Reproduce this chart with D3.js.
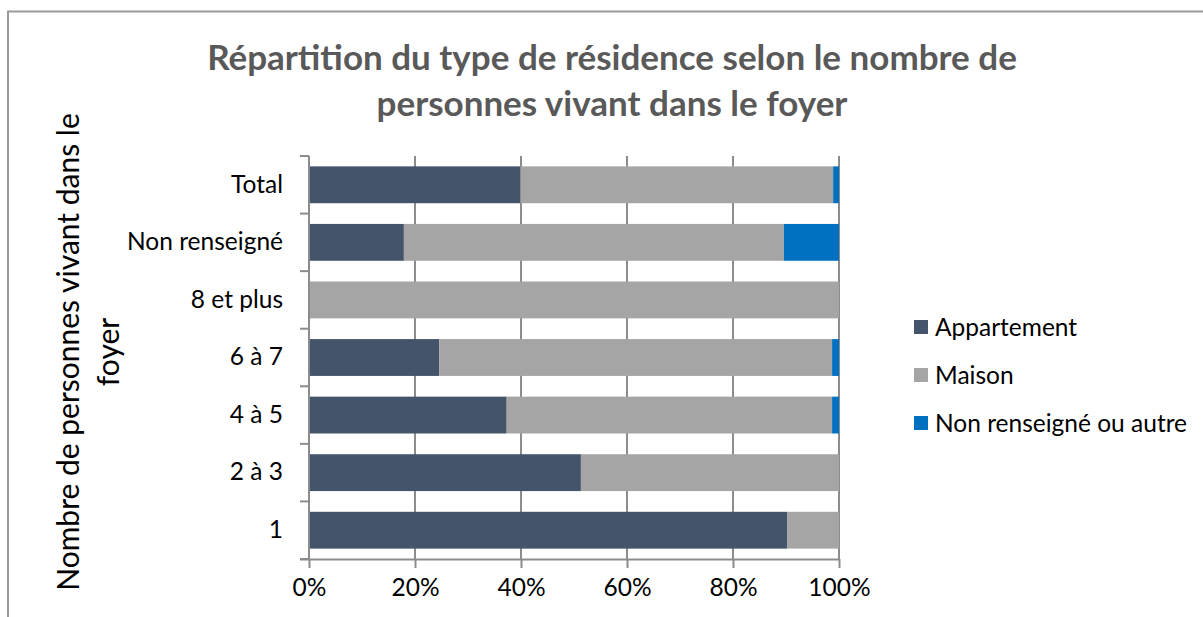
<!DOCTYPE html>
<html>
<head>
<meta charset="utf-8">
<script src="https://cdn.jsdelivr.net/npm/d3@7"></script>
<style>
  body { margin: 0; background: #fff; }
  svg { display: block; font-family: Lato, "Open Sans", sans-serif; }
</style>
</head>
<body>
<div id="chart"></div>
<script>
var width = 1203,
height = 617;

// categories from top to bottom
var categories = ['Total', 'Non renseigné', '8 et plus', '6 à 7', '4 à 5', '2 à 3', '1'];
var seriesNames = ['Appartement', 'Maison', 'Non renseigné ou autre'];
var appartement = [39.9, 17.9, 0, 24.6, 37.3, 51.3, 90.2];
var maison = [59.0, 71.7, 100, 74.1, 61.4, 48.7, 9.8];
var autre = [1.1, 10.4, 0, 1.3, 1.3, 0, 0];
var xTicks = [0, 20, 40, 60, 80, 100];
var colors = ['#44546A', '#A5A5A5', '#0070C0'];

var plot = {left: 309, right: 839, top: 156, bottom: 559};

const svg = d3.select('#chart').
append('svg').
attr('width', width).
attr('height', height);

// chart frame
svg.append('path').
attr('d', 'M8,' + (height + 5) + 'V11.5H' + (width + 5)).
attr('fill', 'none').
attr('stroke', '#9a9a9a').
attr('stroke-width', 2);

const xScale = d3.scaleLinear().
domain([0, 100]).
range([plot.left, plot.right]);

const yScale = d3.scaleBand().
domain(categories).
range([plot.top, plot.bottom]).
paddingInner(0.36).
paddingOuter(0.18);

// gridlines
svg.append('g').
selectAll('line').
data(xTicks).
enter().
append('line').
attr('x1', d => xScale(d)).
attr('x2', d => xScale(d)).
attr('y1', plot.top).
attr('y2', plot.bottom).
attr('stroke', '#8c8c8c').
attr('stroke-width', 2);

// stacked bars
var table = categories.map((c, i) => ({cat: c, Appartement: appartement[i], Maison: maison[i], 'Non renseigné ou autre': autre[i]}));
var stack = d3.stack().keys(seriesNames)(table);

svg.selectAll('g.series').
data(stack).
enter().
append('g').
attr('class', 'series').
attr('fill', (d, i) => colors[i]).
selectAll('rect').
data(d => d.filter(p => p[1] - p[0] > 0)).
enter().
append('rect').
attr('x', d => xScale(d[0])).
attr('width', d => xScale(d[1]) - xScale(d[0])).
attr('y', d => yScale(d.data.cat)).
attr('height', yScale.bandwidth());

// x axis
const xAxis = d3.axisBottom(xScale).
tickValues(xTicks).
tickFormat(d => d + '%').
tickSize(9).
tickPadding(11);

const gx = svg.append('g').
attr('transform', 'translate(0,' + plot.bottom + ')').
call(xAxis);
gx.select('.domain').attr('d', 'M' + (plot.left - 9) + ',0.5H' + plot.right).attr('stroke', '#8c8c8c').attr('stroke-width', 2);
gx.selectAll('.tick line').attr('stroke', '#8c8c8c').attr('stroke-width', 2);
gx.selectAll('.tick text').attr('font-size', '24.5px').attr('fill', '#000').attr('font-family', 'Lato');

// y axis
const yAxis = d3.axisLeft(yScale).tickSize(0).tickPadding(26);
const gy = svg.append('g').
attr('transform', 'translate(' + plot.left + ',0)').
call(yAxis);
gy.select('.domain').attr('d', 'M0,' + plot.top + 'V' + plot.bottom).attr('stroke', '#8c8c8c').attr('stroke-width', 2);
gy.selectAll('.tick text').attr('font-size', '24.5px').attr('fill', '#000').attr('font-family', 'Lato');

// category separators
var step = yScale.step();
svg.append('g').
selectAll('line').
data(d3.range(categories.length + 1)).
enter().
append('line').
attr('x1', plot.left - 9).
attr('x2', plot.left).
attr('y1', d => plot.top + d * step).
attr('y2', d => plot.top + d * step).
attr('stroke', '#8c8c8c').
attr('stroke-width', 2);

// title
var title = svg.append('text').
attr('text-anchor', 'middle').
attr('font-size', '35px').
attr('font-weight', 'bold').
attr('fill', '#595959');
title.append('tspan').attr('x', 612).attr('y', 70).text('Répartition du type de résidence selon le nombre de');
title.append('tspan').attr('x', 612).attr('y', 116).text('personnes vivant dans le foyer');

// y axis title
var ytitle = svg.append('text').
attr('transform', 'translate(0,352) rotate(-90)').
attr('text-anchor', 'middle').
attr('font-size', '30px').
attr('fill', '#000');
ytitle.append('tspan').attr('x', 0).attr('y', 79).text('Nombre de personnes vivant dans le');
ytitle.append('tspan').attr('x', 0).attr('y', 119).text('foyer');

// legend
var legend = svg.selectAll('g.legend').
data(seriesNames).
enter().
append('g').
attr('class', 'legend').
attr('transform', (d, i) => 'translate(914,' + (327 + i * 48) + ')');

legend.append('rect').
attr('x', 0).
attr('y', -7).
attr('width', 14).
attr('height', 14).
attr('fill', (d, i) => colors[i]);

legend.append('text').
attr('x', 21).
attr('y', 8.5).
attr('font-size', '24.5px').
attr('fill', '#000').
text(d => d);
</script>
</body>
</html>
